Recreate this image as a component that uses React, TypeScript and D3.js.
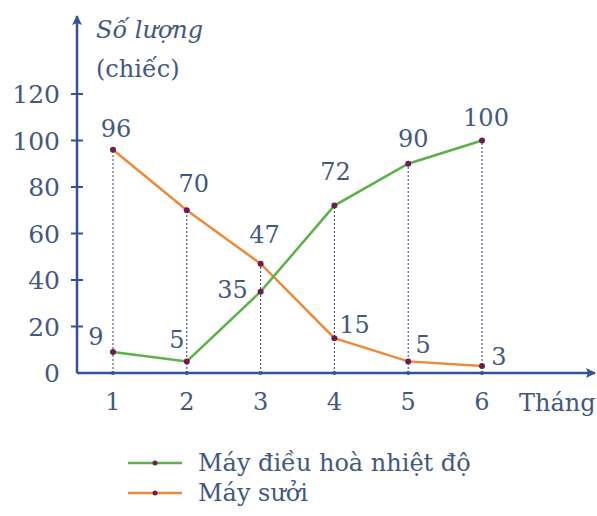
import React from 'react';
import * as d3 from 'd3';

// months on the x axis
const months = [1, 2, 3, 4, 5, 6];
// Máy điều hoà nhiệt độ (green)
const dieuHoa = [9, 5, 35, 72, 90, 100];
// Máy sưởi (orange)
const maySuoi = [96, 70, 47, 15, 5, 3];
const yTicks = [0, 20, 40, 60, 80, 100, 120];

const W = 597;
const H = 516;
const axisColor = '#2f5597';
const textColor = '#43587f';
const green = '#5db14a';
const orange = '#ec8a3a';
const dotColor = '#6b1d52';
const font = "'DejaVu Serif', 'Liberation Serif', serif";
const fs = 24;

// label offsets (dx, dy) for each point
const greenLabelPos = [
  [-17, -7],
  [-10, -13],
  [-28, 6],
  [1, -26],
  [5, -17],
  [4, -15],
];
const orangeLabelPos = [
  [3, -13],
  [7, -18],
  [4, -21],
  [20, -5],
  [15, -8],
  [17, -1],
];

export default function App() {
  const x = d3.scaleLinear().domain([1, 6]).range([113, 482]);
  const y = d3.scaleLinear().domain([0, 120]).range([373, 94]);
  const line = d3
    .line<number>()
    .x((_, i) => x(months[i]))
    .y((d) => y(d));

  const x0 = 77;
  const y0 = y(0);
  const txt = { fontFamily: font, fill: textColor, fontSize: fs } as React.CSSProperties;

  return (
    <svg
      width={W}
      height={H}
      style={{ position: 'absolute', left: 0, top: 0, background: '#fff', fontFamily: font }}
    >
      <defs>
        <marker id="arr" viewBox="0 0 10 10" refX="9" refY="5" markerWidth="10" markerHeight="10" orient="auto-start-reverse" markerUnits="userSpaceOnUse">
          <path d="M0,0 L10,5 L0,10 L2,5 z" fill={axisColor} />
        </marker>
      </defs>

      {/* dotted drop lines */}
      {months.map((m, i) => (
        <line
          key={'d' + m}
          x1={x(m)}
          x2={x(m)}
          y1={y0}
          y2={y(Math.max(dieuHoa[i], maySuoi[i]))}
          stroke="#2d3e6e"
          strokeWidth={1}
          strokeDasharray="2,2"
        />
      ))}

      {/* axes */}
      <line x1={x0} x2={x0} y1={y0} y2={16} stroke={axisColor} strokeWidth={2.5} markerEnd="url(#arr)" />
      <line x1={x0} x2={595} y1={y0} y2={y0} stroke={axisColor} strokeWidth={2.5} markerEnd="url(#arr)" />
      {yTicks.filter((t) => t > 0).map((t) => (
        <line key={'yt' + t} x1={x0 - 6} x2={x0 + 6} y1={y(t)} y2={y(t)} stroke={axisColor} strokeWidth={2} />
      ))}
      {yTicks.map((t) => (
        <text key={'yl' + t} x={60} y={y(t) + 9} textAnchor="end" style={{ ...txt, fontSize: 25 }}>
          {t}
        </text>
      ))}
      {months.map((m) => (
        <g key={'xt' + m}>
          <circle cx={x(m)} cy={y0} r={2} fill={axisColor} />
          <text x={x(m)} y={410} textAnchor="middle" style={txt}>
            {m}
          </text>
        </g>
      ))}
      <text x={519} y={411} style={txt}>Tháng</text>
      <text x={96} y={38} style={{ ...txt, fontStyle: 'italic' }}>Số lượng</text>
      <text x={96} y={77} style={txt}>(chiếc)</text>

      {/* series */}
      <path d={line(maySuoi) || ''} fill="none" stroke={orange} strokeWidth={2.5} />
      <path d={line(dieuHoa) || ''} fill="none" stroke={green} strokeWidth={2.5} />
      {months.map((m, i) => (
        <g key={'p' + m}>
          <circle cx={x(m)} cy={y(dieuHoa[i])} r={3} fill={dotColor} />
          <circle cx={x(m)} cy={y(maySuoi[i])} r={3} fill={dotColor} />
          <text
            x={x(m) + greenLabelPos[i][0]}
            y={y(dieuHoa[i]) + greenLabelPos[i][1]}
            textAnchor="middle"
            style={txt}
          >
            {dieuHoa[i]}
          </text>
          <text
            x={x(m) + orangeLabelPos[i][0]}
            y={y(maySuoi[i]) + orangeLabelPos[i][1]}
            textAnchor="middle"
            style={txt}
          >
            {maySuoi[i]}
          </text>
        </g>
      ))}

      {/* legend */}
      <line x1={128} x2={182} y1={463} y2={463} stroke={green} strokeWidth={2.5} />
      <circle cx={155} cy={463} r={2.5} fill={dotColor} />
      <text x={198} y={471} style={txt}>Máy điều hoà nhiệt độ</text>
      <line x1={128} x2={182} y1={493} y2={493} stroke={orange} strokeWidth={2.5} />
      <circle cx={155} cy={493} r={2.5} fill={dotColor} />
      <text x={198} y={501} style={txt}>Máy sưởi</text>
    </svg>
  );
}
